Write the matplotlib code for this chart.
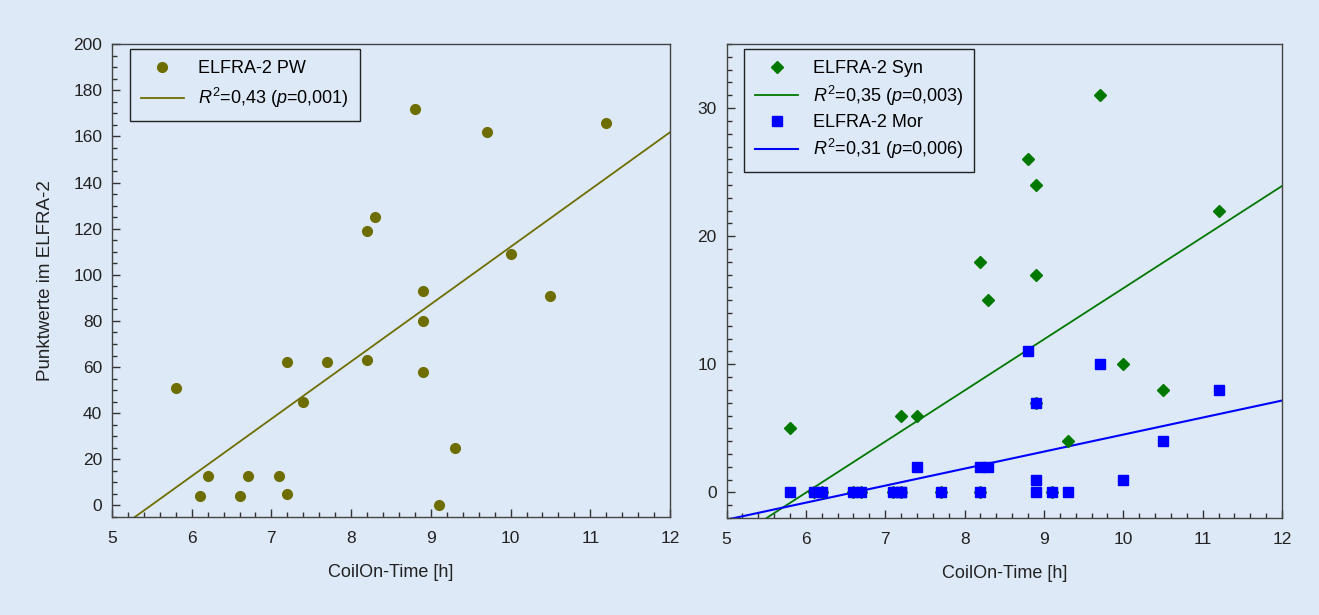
import numpy as np
import matplotlib
matplotlib.use("Agg")
import matplotlib.pyplot as plt
from matplotlib.ticker import MultipleLocator

plt.rcParams['font.family'] = ['Liberation Sans', 'DejaVu Sans']
plt.rcParams['mathtext.fontset'] = 'custom'
plt.rcParams['mathtext.rm'] = 'Liberation Sans'
plt.rcParams['mathtext.it'] = 'Liberation Sans:italic'

# CoilOn-Time per subject (hours)
coil_time = [5.8, 6.1, 6.2, 6.6, 6.7, 7.1, 7.2, 7.2, 7.4, 7.7, 8.2, 8.2,
             8.3, 8.8, 8.9, 8.9, 8.9, 9.1, 9.3, 9.7, 10.0, 10.5, 11.2]
# ELFRA-2 scores, same subject order as coil_time
pw_scores = [51, 4, 13, 4, 13, 13, 62, 5, 45, 62, 119, 63,
             125, 172, 93, 80, 58, 0, 25, 162, 109, 91, 166]
syn_scores = [5, 0, 0, 0, 0, 0, 6, 0, 6, 0, 18, 0,
              15, 26, 24, 17, 7, 0, 4, 31, 10, 8, 22]
mor_scores = [0, 0, 0, 0, 0, 0, 0, 0, 2, 0, 2, 0,
              2, 11, 7, 1, 0, 0, 0, 10, 1, 4, 8]

pw_label = r'$R^2$=0,43 ($p$=0,001)'
syn_label = r'$R^2$=0,35 ($p$=0,003)'
mor_label = r'$R^2$=0,31 ($p$=0,006)'

bg = '#dde9f7'
olive = '#6e6e00'
green = '#007800'
blue = '#0000ff'

fig = plt.figure(figsize=(13.19, 6.15), dpi=100, facecolor=bg)
ax1 = fig.add_axes([0.0849, 0.1593, 0.4231, 0.769])
ax2 = fig.add_axes([0.5508, 0.1577, 0.4212, 0.7707])

x = np.array(coil_time)
xfit = np.array([4.0, 13.0])


def style(ax):
    ax.set_facecolor(bg)
    for s in ax.spines.values():
        s.set_color('#444444')
        s.set_linewidth(1.0)
    ax.tick_params(which='both', direction='in', top=False, right=False,
                   colors='#333333', labelcolor='#222222', labelsize=12.5)
    ax.tick_params(which='major', length=5.5, width=1)
    ax.tick_params(which='minor', length=3.5, width=1)
    ax.tick_params(axis='x', which='major', pad=10)
    ax.tick_params(axis='y', which='major', pad=7)
    ax.set_xlim(5, 12)
    ax.xaxis.set_major_locator(MultipleLocator(1))
    ax.xaxis.set_minor_locator(MultipleLocator(0.2))
    ax.set_xlabel('CoilOn-Time [h]', fontsize=13, color='#222222', labelpad=13)


def legend(ax, spacing):
    leg = ax.legend(loc='upper left', fontsize=13, frameon=True, fancybox=False,
                    edgecolor='#222222', facecolor=bg, framealpha=1,
                    borderpad=0.6, handlelength=2.4, labelspacing=spacing,
                    borderaxespad=0, bbox_to_anchor=(0.032, 0.989))
    leg.get_frame().set_linewidth(1.0)


# left panel
style(ax1)
ax1.plot(coil_time, pw_scores, 'o', color=olive, markersize=7,
         label='ELFRA-2 PW', zorder=3)
k, b = np.polyfit(x, pw_scores, 1)
ax1.plot(xfit, k * xfit + b, '-', color=olive, linewidth=1.3, label=pw_label)
ax1.set_ylim(-5, 200)
ax1.yaxis.set_major_locator(MultipleLocator(20))
ax1.yaxis.set_minor_locator(MultipleLocator(5))
ax1.set_ylabel('Punktwerte im ELFRA-2', fontsize=13.5, color='#222222', labelpad=14)
legend(ax1, 0.5)

# right panel
style(ax2)
ax2.plot(coil_time, syn_scores, 'D', color=green, markersize=6,
         label='ELFRA-2 Syn', zorder=3)
k, b = np.polyfit(x, syn_scores, 1)
ax2.plot(xfit, k * xfit + b, '-', color=green, linewidth=1.3, label=syn_label)
ax2.plot(coil_time, mor_scores, 's', color=blue, markersize=6.5,
         label='ELFRA-2 Mor', zorder=4)
k, b = np.polyfit(x, mor_scores, 1)
ax2.plot(xfit, k * xfit + b, '-', color=blue, linewidth=1.5, label=mor_label)
ax2.set_ylim(-2, 35)
ax2.yaxis.set_major_locator(MultipleLocator(10))
ax2.yaxis.set_minor_locator(MultipleLocator(1))
legend(ax2, 0.35)

fig.savefig('out.png', dpi=100, facecolor=bg)
